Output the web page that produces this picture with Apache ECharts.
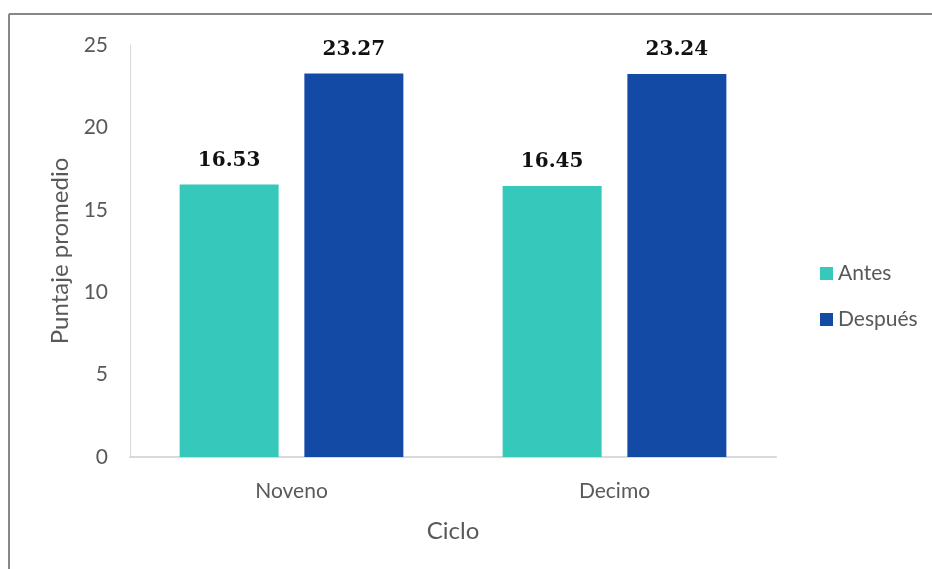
<!DOCTYPE html>
<html>
<head>
<meta charset="utf-8">
<script src="https://cdn.jsdelivr.net/npm/echarts@6/dist/echarts.min.js"></script>
<style>html,body{margin:0;padding:0;background:#fff}#chart{width:932px;height:569px}</style>
</head>
<body>
<div id="chart"></div>
<script>
const categories = ['Noveno', 'Decimo'];
const antes = [16.53, 16.45];
const despues = [23.27, 23.24];
const yTicks = { min: 0, max: 25, interval: 5 };
const seriesNames = ['Antes', 'Después'];

const chart = echarts.init(document.getElementById('chart'));
const labelStyle = {
  show: true, position: 'top', distance: 14,
  fontFamily: 'DejaVu Serif', fontWeight: 'bold', fontSize: 20, color: '#111',
  formatter: p => p.value.toFixed(2)
};
chart.setOption({
  animation: false,
  backgroundColor: '#fff',
  graphic: [
    { type: 'line', shape: { x1: 9, y1: 14, x2: 932, y2: 14 }, style: { stroke: '#878787', lineWidth: 2 } },
    { type: 'line', shape: { x1: 9, y1: 14, x2: 9, y2: 569 }, style: { stroke: '#878787', lineWidth: 2 } }
  ],
  grid: { left: 130, right: 156, top: 45, bottom: 112 },
  legend: {
    orient: 'vertical', left: 815, top: 258,
    itemWidth: 13, itemHeight: 13, itemGap: 25,
    icon: 'rect',
    textStyle: { fontFamily: 'Lato', fontSize: 21, color: '#595959' },
    data: seriesNames
  },
  xAxis: {
    type: 'category', data: categories,
    axisLine: { lineStyle: { color: '#d9d9d9', width: 2 } },
    axisTick: { show: false },
    axisLabel: { fontFamily: 'Lato', fontSize: 21, color: '#595959', margin: 24 },
    name: 'Ciclo', nameLocation: 'middle', nameGap: 62,
    nameTextStyle: { fontFamily: 'Lato', fontSize: 24, color: '#595959' }
  },
  yAxis: {
    type: 'value', min: yTicks.min, max: yTicks.max, interval: yTicks.interval,
    axisLine: { show: true, lineStyle: { color: '#d9d9d9', width: 1 } },
    axisTick: { show: false },
    splitLine: { show: false },
    axisLabel: { fontFamily: 'Lato', fontSize: 21, color: '#595959', margin: 22 },
    name: 'Puntaje promedio', nameLocation: 'middle', nameGap: 56,
    nameTextStyle: { fontFamily: 'Lato', fontSize: 24, color: '#595959' }
  },
  series: [
    { name: seriesNames[0], type: 'bar', data: antes, barWidth: 99, barGap: '26%',
      itemStyle: { color: '#36C8BB' }, label: labelStyle },
    { name: seriesNames[1], type: 'bar', data: despues, barWidth: 99,
      itemStyle: { color: '#134AA5' }, label: labelStyle }
  ]
});
</script>
</body>
</html>
